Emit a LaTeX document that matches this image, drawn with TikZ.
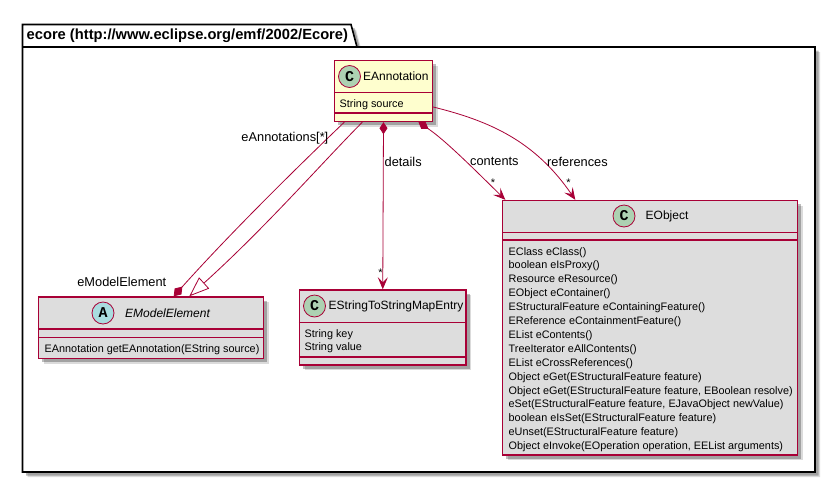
\documentclass[tikz,border=0pt]{standalone}
\usepackage{fontspec}
\setmainfont{Liberation Sans}
\setmonofont{Liberation Mono}
\usetikzlibrary{arrows.meta,shadows}
\definecolor{umlred}{HTML}{A80036}
\definecolor{umlyellow}{HTML}{FEFECE}
\definecolor{umlgray}{HTML}{DDDDDD}
\definecolor{umlgreen}{HTML}{ADD1B2}
\definecolor{umlblue}{HTML}{A9DCDF}
\tikzset{
    softshadow/.style={drop shadow={shadow xshift=5pt,shadow yshift=-5pt,fill=black,opacity=0.14},
        drop shadow={shadow xshift=3.5pt,shadow yshift=-3.5pt,fill=black,opacity=0.26}},
    classbox/.style={draw=umlred,line width=1.4pt,fill=umlgray,inner sep=0pt,softshadow},
    classline/.style={draw=umlred,line width=1.2pt},
    spot/.style={circle,draw=umlred,line width=0.8pt,fill=umlgreen,minimum size=22pt,inner sep=0pt,
        font=\fontsize{15}{15}\ttfamily\bfseries},
    title/.style={font=\fontsize{12}{14}\selectfont,inner sep=0pt},
    members/.style={font=\fontsize{10.85}{13.9}\selectfont,align=left,anchor=north west,inner sep=0pt},
    assoc/.style={draw=umlred,line width=0.8pt},
    rolelabel/.style={font=\fontsize{12.8}{15}\selectfont,inner sep=0pt},
    starlabel/.style={font=\fontsize{11}{13}\selectfont,inner sep=0pt}
}
\begin{document}
\begin{tikzpicture}[x=1pt,y=-1pt]
    \useasboundingbox (0,0) rectangle (835,483);

    % package
    \draw [line width=1.6pt,fill=white,softshadow] (22.5,472) -- (22.5,24.5) -- (351,24.5) -- (357,47) -- (815,47) -- (815,472) -- cycle;
    \draw [line width=1.6pt] (22.5,47) -- (357,47);
    \node (ecoreTitle) [font=\fontsize{14.7}{16}\selectfont\bfseries,anchor=west,inner sep=0pt] at (26.5,36) {ecore (http://www.eclipse.org/emf/2002/Ecore)};

    % classes
    \node (eAnnotation) [classbox,fill=umlyellow,minimum width=98pt,minimum height=61pt] at (383.5,91) {};
    \node (eModelElement) [classbox,minimum width=225pt,minimum height=61.5pt] at (151,327.75) {};
    \node (eStringEntry) [classbox,minimum width=166.5pt,minimum height=75pt] at (382.75,327.5) {};
    \node (eObject) [classbox,minimum width=295pt,minimum height=254.5pt] at (650,327.75) {};

    % compartments
    \draw [classline] (eAnnotation.west |- 0,92.5) -- (eAnnotation.east |- 0,92.5);
    \draw [classline] (eAnnotation.west |- 0,113) -- (eAnnotation.east |- 0,113);
    \draw [classline] (eModelElement.west |- 0,329) -- (eModelElement.east |- 0,329);
    \draw [classline] (eModelElement.west |- 0,337.5) -- (eModelElement.east |- 0,337.5);
    \draw [classline] (eStringEntry.west |- 0,322.5) -- (eStringEntry.east |- 0,322.5);
    \draw [classline] (eStringEntry.west |- 0,357) -- (eStringEntry.east |- 0,357);
    \draw [classline] (eObject.west |- 0,232.5) -- (eObject.east |- 0,232.5);
    \draw [classline] (eObject.west |- 0,240) -- (eObject.east |- 0,240);

    % headers
    \node (spotAnnotation) [spot] at (349.5,76.5) {C};
    \node (spotElement) [spot,fill=umlblue] at (103,313) {A};
    \node (spotEntry) [spot] at (314.5,306) {C};
    \node (spotObject) [spot] at (624,216) {C};
    \node (nameAnnotation) [title,anchor=west] at (363,76.5) {EAnnotation};
    \node (nameElement) [title,anchor=west] at (125,313.5) {\itshape EModelElement};
    \node (nameEntry) [title,anchor=west] at (328.5,306.5) {EStringToStringMapEntry};
    \node (nameObject) [title,anchor=west] at (645.5,216.5) {EObject};

    % members
    \node (bodyAnnotation) [members] at (339.5,99) {String source};
    \node (bodyElement) [members] at (44.5,344) {EAnnotation getEAnnotation(EString source)};
    \node (bodyEntry) [members] at (304.5,329) {String key\\String value};
    \node (bodyObject) [members] at (508.5,247) {EClass eClass()\\boolean eIsProxy()\\Resource eResource()\\EObject eContainer()\\EStructuralFeature eContainingFeature()\\EReference eContainmentFeature()\\EList eContents()\\TreeIterator eAllContents()\\EList eCrossReferences()\\Object eGet(EStructuralFeature feature)\\Object eGet(EStructuralFeature feature, EBoolean resolve)\\eSet(EStructuralFeature feature, EJavaObject newValue)\\boolean eIsSet(EStructuralFeature feature)\\eUnset(EStructuralFeature feature)\\Object eInvoke(EOperation operation, EEList arguments)};

    % connectors
    \draw [assoc,{Diamond[length=13pt,width=9pt,fill=umlred]}-] ([xshift=-90.5pt]eModelElement.north east) .. controls (226,238) and (287,177) .. ([xshift=10.5pt]eAnnotation.south west);
    \draw [assoc,-{Triangle[open,length=20pt,width=15pt,fill=white]}] ([xshift=28.5pt]eAnnotation.south west) .. controls (320,165) and (265,228) .. ([xshift=151.5pt]eModelElement.north west);
    \draw [assoc,{Diamond[length=12pt,width=8pt,fill=umlred]}-{Stealth[length=12pt,width=10pt,inset=5pt,fill=umlred]}] (eAnnotation.south) -- (eStringEntry.north);
    \draw [assoc,{Diamond[length=12pt,width=8pt,fill=umlred]}-{Stealth[length=12pt,width=10pt,inset=5pt,fill=umlred]}] ([xshift=35pt]eAnnotation.south) .. controls (445,140) and (475,170) .. ([xshift=3.5pt]eObject.north west);
    \draw [assoc,-{Stealth[length=12pt,width=10pt,inset=5pt,fill=umlred]}] ([yshift=-16pt]eAnnotation.east) .. controls (490,121) and (535,141) .. ([xshift=73.5pt]eObject.north west);

    % labels
    \node (labelAnnotations) [rolelabel,anchor=east] at (328.5,138.5) {eAnnotations[*]};
    \node (labelElement) [rolelabel,anchor=east] at (166.5,281.5) {eModelElement};
    \node (labelDetails) [rolelabel,anchor=west] at (384.5,161.5) {details};
    \node (labelContents) [rolelabel,anchor=west] at (470,161.5) {contents};
    \node (labelReferences) [rolelabel,anchor=west] at (547,161.5) {references};
    \node (starDetails) [starlabel] at (380.5,273) {*};
    \node (starContents) [starlabel] at (493,183) {*};
    \node (starReferences) [starlabel] at (568.5,183) {*};
\end{tikzpicture}
\end{document}
